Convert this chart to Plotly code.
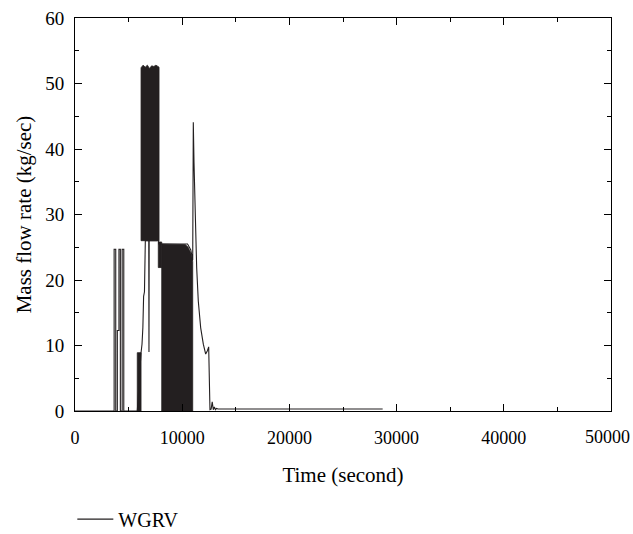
import plotly.graph_objects as go

# ---------------- data ----------------
# main WGRV trace (time in s, mass flow rate in kg/s)
line_t = [0, 3650, 3650, 3800, 3800, 3950, 3950, 4100, 4100, 4230, 4230,
          4400, 4400, 4550, 4550, 5810,
          6160, 6250, 6330, 6400, 6480, 6560, 6880, 6900, 6920, 7800,
          7800, 10500, 10800, 10980,
          11035, 11100, 11180, 11260, 11350, 11500, 11725, 11970, 12190, 12350, 12470,
          12590, 12700, 12800, 12900, 13000, 13100, 13200, 13350, 28700]
line_v = [0, 0, 24.7, 24.7, 0, 0, 12.3, 12.3, 24.7, 24.7, 0,
          0, 24.7, 24.7, 0, 0,
          8.9, 10.2, 12.7, 17.5, 18.2, 26.0, 26.0, 9.0, 26.0, 26.0,
          25.5, 25.5, 24.6, 23.0,
          44.1, 38.0, 32.0, 27.0, 21.9, 16.8, 12.7, 10.2, 8.7, 9.2, 9.8,
          0.2, 0.3, 1.4, 0.2, 0.6, 0.2, 0.4, 0.3, 0.3]

# dense-oscillation bands (drawn as solid bands: time, lower envelope, upper envelope)
band1_t = [5810, 6160]
band1_lo = [0, 0]
band1_hi = [8.9, 8.9]

band2_t = [6160, 6350, 6550, 6750, 6950, 7150, 7350, 7550, 7840]
band2_lo = [26.0, 26.0, 26.0, 26.0, 26.0, 26.0, 26.0, 26.0, 26.0]
band2_hi = [52.4, 52.8, 52.5, 52.8, 52.3, 52.7, 52.6, 52.8, 52.5]

band3_t = [7770, 8090]
band3_lo = [21.9, 21.9]
band3_hi = [25.8, 25.8]

band4_t = [8090, 9000, 10000, 10300, 10550, 10750, 10900, 10980]
band4_lo = [0, 0, 0, 0, 0, 0, 0, 0]
band4_hi = [25.5, 25.5, 25.5, 25.4, 25.0, 24.3, 23.5, 22.8]

x_ticks = [0, 10000, 20000, 30000, 40000, 50000]
y_ticks = [0, 10, 20, 30, 40, 50, 60]

INK = "#231f20"
FONT = "Liberation Serif"

fig = go.Figure()


def add_band(t, lo, hi):
    xs = list(t) + list(reversed(t)) + [t[0]]
    ys = list(hi) + list(reversed(lo)) + [hi[0]]
    fig.add_trace(go.Scatter(x=xs, y=ys, mode="lines", fill="toself",
                             fillcolor=INK, line=dict(color=INK, width=0.8),
                             showlegend=False, hoverinfo="skip"))


for bt, blo, bhi in [(band1_t, band1_lo, band1_hi), (band2_t, band2_lo, band2_hi),
                     (band3_t, band3_lo, band3_hi), (band4_t, band4_lo, band4_hi)]:
    add_band(bt, blo, bhi)

fig.add_trace(go.Scatter(x=line_t, y=line_v, mode="lines", name="WGRV",
                         line=dict(color=INK, width=1.1)))

axis_common = dict(
    showline=True, linecolor="black", linewidth=1, mirror="allticks",
    ticks="inside", ticklen=7, tickwidth=1, tickcolor="black",
    showgrid=False, zeroline=False, automargin=False,
)

# last x label is drawn as an annotation so that it stays inside the page
x_labels = [str(v) for v in x_ticks[:-1]] + [""]

fig.update_xaxes(range=[0, 50000], tickvals=x_ticks, ticktext=x_labels,
                 ticklabelstandoff=10,
                 tickfont=dict(family=FONT, size=18, color="black"),
                 minor=dict(ticks="inside", ticklen=4, dtick=5000, tickcolor="black", showgrid=False),
                 title=dict(text="Time (second)", font=dict(family=FONT, size=21, color="black"), standoff=20),
                 **axis_common)
fig.update_yaxes(range=[0, 60], tickvals=y_ticks,
                 ticktext=[str(v) for v in y_ticks],
                 ticklabelstandoff=6,
                 tickfont=dict(family=FONT, size=19, color="black"),
                 minor=dict(ticks="inside", ticklen=4, dtick=5, tickcolor="black", showgrid=False),
                 title=dict(text="Mass flow rate (kg/sec)", font=dict(family=FONT, size=21, color="black"), standoff=7),
                 **axis_common)

fig.add_annotation(x=x_ticks[-1], xref="x", y=0, yref="paper",
                   text=str(x_ticks[-1]), showarrow=False,
                   xanchor="right", xshift=21, yanchor="top", yshift=-14,
                   font=dict(family=FONT, size=18, color="black"))

fig.update_layout(
    width=633, height=534,
    margin=dict(l=75, r=22, t=18, b=123, autoexpand=False),
    paper_bgcolor="white", plot_bgcolor="white",
    showlegend=True,
    legend=dict(x=-0.005, xanchor="left", y=-0.275, yanchor="middle",
                itemwidth=36,
                font=dict(family=FONT, size=20, color="black"),
                bgcolor="rgba(0,0,0,0)"),
)

fig.write_html("out.html")
